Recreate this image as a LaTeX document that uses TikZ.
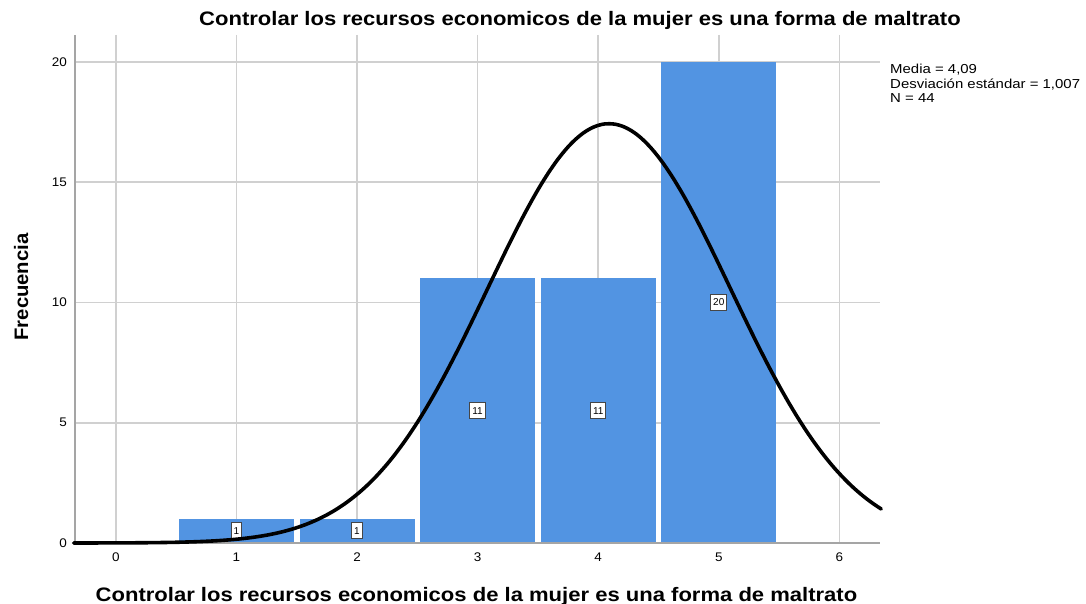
\documentclass[tikz,border=0pt]{standalone}
\usepackage{fontspec}
\setmainfont{Liberation Sans}
\definecolor{barblue}{RGB}{82,148,226}
\definecolor{gridgray}{RGB}{208,208,208}
\definecolor{axisgray}{RGB}{165,165,165}
\definecolor{boxborder}{RGB}{70,70,70}
\newcommand{\hstretch}[2]{\scalebox{#1}[1]{#2}}
\begin{document}
\begin{tikzpicture}[x=1pt,y=-1pt,
  gridline/.style={gridgray,line width=1.5pt},
  axisline/.style={axisgray,line width=2pt},
  bar/.style={fill=barblue,draw=none},
  countbox/.style={draw=boxborder,fill=white,line width=1pt,inner xsep=2.6pt,inner ysep=0pt,minimum height=16pt,font=\fontsize{10}{11}\selectfont},
  ticklab/.style={inner sep=0pt,font=\fontsize{12.5}{14}\selectfont},
  bigtitle/.style={inner sep=0pt,font=\fontsize{19.5}{23}\selectfont\bfseries},
  curve/.style={black,line width=3.6pt,line cap=round}
]
\useasboundingbox (0,0) rectangle (1086,604);
% grid
\foreach \f in {5,10,15,20}{
  \draw[gridline] (75,{543-24.05*\f}) -- (880,{543-24.05*\f});
}
\foreach \v in {0,...,6}{
  \draw[gridline] ({115.8+120.6*\v},35) -- ({115.8+120.6*\v},543);
}
% bars
\foreach \v/\c in {1/1,2/1,3/11,4/11,5/20}{
  \fill[bar] ({115.8+120.6*\v-57.5},{543-24.05*\c}) rectangle ({115.8+120.6*\v+57.5},543);
}
% axes
\draw[axisline] (75,35) -- (75,543);
\draw[axisline] (75,543) -- (880,543);
% count labels
\node[countbox] (c1) at ({115.8+120.6*1},{543-24.05*0.5}) {1};
\node[countbox] (c2) at ({115.8+120.6*2},{543-24.05*0.5}) {1};
\node[countbox] (c3) at ({115.8+120.6*3},{543-24.05*5.5}) {11};
\node[countbox] (c4) at ({115.8+120.6*4},{543-24.05*5.5}) {11};
\node[countbox] (c5) at ({115.8+120.6*5},{543-24.05*10}) {20};
% normal curve
\draw[curve] plot[domain=-0.35:6.35,samples=220,smooth] ({115.8+120.6*\x},{543-24.05*17.431*exp(-((\x-4.09)^2)/(2*1.014))});
% y tick labels
\foreach \f in {0,5,10,15,20}{
  \node[ticklab,anchor=east] (yt\f) at (67,{543-24.05*\f}) {\hstretch{1.08}{\f}};
}
% x tick labels
\foreach \v in {0,...,6}{
  \node[ticklab] (xt\v) at ({115.8+120.6*\v},557) {\hstretch{1.08}{\v}};
}
% titles
\node[bigtitle,anchor=base] (title) at (580,26) {\hstretch{1.13}{Controlar los recursos economicos de la mujer es una forma de maltrato}};
\node[bigtitle,anchor=base] (xlabel) at (476.5,601) {\hstretch{1.13}{Controlar los recursos economicos de la mujer es una forma de maltrato}};
\node[bigtitle,anchor=base,rotate=90] (ylabel) at (28,287) {\hstretch{1.04}{Frecuencia}};
% stats
\node[inner sep=0pt,anchor=base west,font=\fontsize{13}{15}\selectfont] (stats) at (890,74) {\hstretch{1.15}{\begin{tabular}[t]{@{}l@{}}Media = 4,09\\[-0.5pt] Desviación estándar = 1,007\\[-0.5pt] N = 44\end{tabular}}};
\end{tikzpicture}
\end{document}
